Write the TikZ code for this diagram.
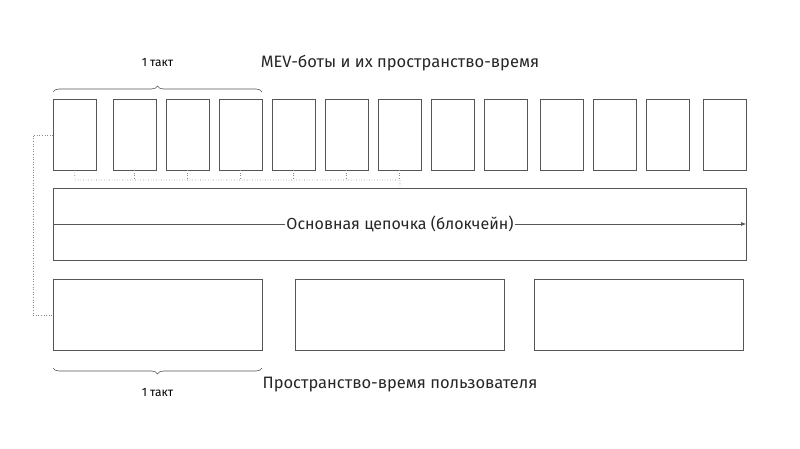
\documentclass[tikz,border=0pt]{standalone}
\usepackage{fontspec}
\setmainfont{Fira Sans}
\usetikzlibrary{decorations.pathreplacing,arrows.meta}
\definecolor{ln}{HTML}{555555}
\begin{document}
\begin{tikzpicture}[x=1pt,y=-1pt,
  bx/.style={draw=ln,line width=0.8pt,fill=white},
  dots/.style={draw=ln!70,dotted,line width=0.6pt},
  br/.style={draw=ln,line width=0.6pt,decorate,decoration={brace,amplitude=6pt}}]
\useasboundingbox (0,0) rectangle (800,449);
\foreach \i/\x in {1/53,2/113,3/166,4/219,5/272,6/325,7/378,8/431,9/484,10/540,11/593,12/646,13/703}{
  \draw[bx] (\x,99) rectangle ++(43,71) node[pos=0.5] (t\i) {};
  \coordinate (tb\i) at (\x+21.5,170);
}
\draw[dots] (tb1) -- (75,180) -- (400,180) -- (400,188);
\foreach \i in {2,...,7} \draw[dots] (tb\i) -- ++(0,10);
\draw[bx] (53,188) rectangle (746,260);
\coordinate (as) at (53,224); \coordinate (ae) at (746,224);
\draw[ln,line width=0.6pt,-{Latex[length=5pt,width=4pt]}] (as) -- (ae);
\node[fill=white,inner sep=1pt,font=\fontsize{16}{19}\selectfont,text=black!85] (main) at (400,224) {Основная цепочка (блокчейн)};
\draw[bx] (53,279) rectangle (262,350);
\draw[bx] (295,279) rectangle (504,350);
\draw[bx] (534,279) rectangle (743,350);
\draw[dots] (53,135) -- (33,135) -- (33,315) -- (53,315);
\draw[br] (53,92) -- (262,92);
\draw[br] (262,368) -- (53,368);
\node[font=\fontsize{12}{14}\selectfont] (l1) at (157.5,63) {1 такт};
\node[font=\fontsize{12}{14}\selectfont] (l2) at (157.5,393) {1 такт};
\node[font=\fontsize{16.5}{19}\selectfont,text=black!85] (h1) at (400,63) {MEV-боты и их пространство-время};
\node[font=\fontsize{16.5}{19}\selectfont,text=black!85] (h2) at (400,385) {Пространство-время пользователя};
\end{tikzpicture}
\end{document}
